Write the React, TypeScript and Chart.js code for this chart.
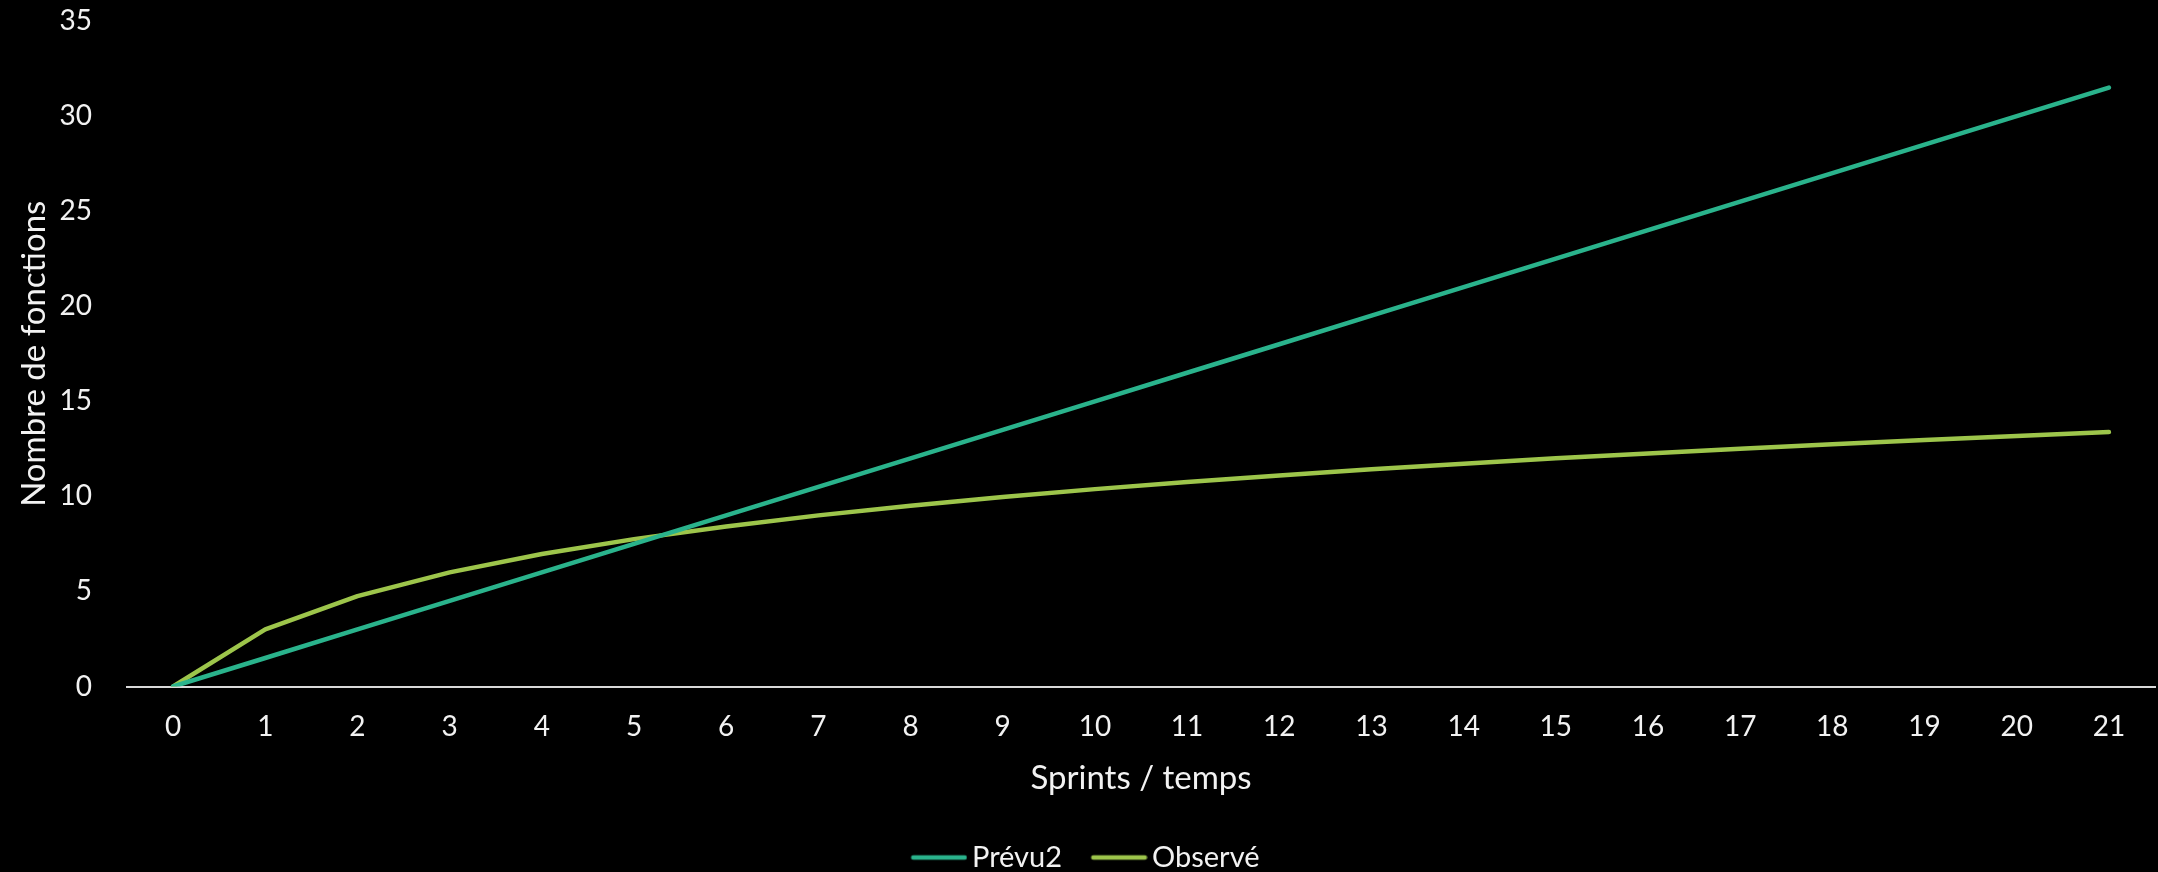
import React, { useEffect, useRef } from "react";
import { Chart, registerables } from "chart.js";

Chart.register(...registerables);

const sprints = ["0", "1", "2", "3", "4", "5", "6", "7", "8", "9", "10", "11", "12", "13", "14", "15", "16", "17", "18", "19", "20", "21"];
const prevu2 = [0, 1.5, 3, 4.5, 6, 7.5, 9, 10.5, 12, 13.5, 15, 16.5, 18, 19.5, 21, 22.5, 24, 25.5, 27, 28.5, 30, 31.5];
const observe = [0, 3.0, 4.75, 6.0, 6.97, 7.75, 8.42, 9.0, 9.51, 9.97, 10.38, 10.75, 11.1, 11.42, 11.72, 12.0, 12.26, 12.51, 12.74, 12.97, 13.18, 13.38];
const yMin = 0;
const yMax = 35;
const yStep = 5;

const seriesNames = ["Prévu2", "Observé"];
const seriesColors = ["#2AB38C", "#9DC54B"];

const TEXT = "#f2f2f2";
const FAMILY = "Lato, 'Noto Sans', sans-serif";
const TICK_FONT = { family: FAMILY, size: 28 };
const TITLE_FONT = { family: FAMILY, size: 33 };
const LEGEND_FONT = { family: FAMILY, size: 29 };
const LINE_W = 4.5;

// legend swatch: a rounded line drawn into a small canvas so it sits close to its text
function makeSwatch(color: string): HTMLCanvasElement {
  const c = document.createElement("canvas");
  c.width = 60;
  c.height = 8;
  const ctx = c.getContext("2d")!;
  ctx.strokeStyle = color;
  ctx.lineWidth = LINE_W;
  ctx.lineCap = "round";
  ctx.beginPath();
  ctx.moveTo(5.75, 4);
  ctx.lineTo(57.25, 4);
  ctx.stroke();
  return c;
}

export default function App() {
  const ref = useRef<HTMLCanvasElement | null>(null);

  useEffect(() => {
    const canvas = ref.current;
    if (!canvas) return;
    const series = [prevu2, observe];
    const chart = new Chart(canvas, {
      type: "line",
      data: {
        labels: sprints,
        datasets: series.map((data, i) => ({
          label: seriesNames[i],
          data,
          borderColor: seriesColors[i],
          backgroundColor: seriesColors[i],
          borderWidth: LINE_W,
          borderCapStyle: "round",
          borderJoinStyle: "round",
          pointRadius: 0,
          pointHoverRadius: 0,
          pointStyle: makeSwatch(seriesColors[i]),
          tension: 0,
        })),
      },
      options: {
        responsive: false,
        animation: false,
        events: [],
        layout: { padding: { top: 21, right: 3, left: 22, bottom: 0 } },
        scales: {
          x: {
            type: "category",
            offset: true,
            grid: { display: false, drawTicks: false },
            border: { display: true, color: "#d9d9d9", width: 2 },
            ticks: { color: TEXT, font: TICK_FONT, padding: 24, maxRotation: 0, autoSkip: false },
            title: {
              display: true,
              text: "Sprints / temps",
              color: TEXT,
              font: TITLE_FONT,
              padding: { top: 0, bottom: 9 },
            },
            afterFit: (s: any) => {
              s.height = 121;
            },
          },
          y: {
            min: yMin,
            max: yMax,
            grid: { display: false, drawTicks: false },
            border: { display: false },
            ticks: { stepSize: yStep, color: TEXT, font: TICK_FONT, padding: 35 },
            title: {
              display: true,
              text: "Nombre de fonctions",
              color: TEXT,
              font: TITLE_FONT,
              padding: { top: -7, bottom: 0 },
            },
            afterFit: (s: any) => {
              s.width = 105;
              s.paddingTop = 0;
              s.paddingBottom = 0;
            },
          },
        },
        plugins: {
          legend: {
            position: "bottom",
            labels: {
              usePointStyle: true,
              pointStyleWidth: 40,
              color: TEXT,
              font: LEGEND_FONT,
              padding: 35.5,
            },
          },
          tooltip: { enabled: false },
        },
      },
    });
    return () => chart.destroy();
  }, []);

  return (
    <div
      style={{
        position: "fixed",
        left: 0,
        top: 0,
        width: 2158,
        height: 872,
        overflow: "hidden",
        background: "#000000",
      }}
    >
      <canvas ref={ref} width={2158} height={882} style={{ display: "block", width: 2158, height: 882 }} />
    </div>
  );
}
